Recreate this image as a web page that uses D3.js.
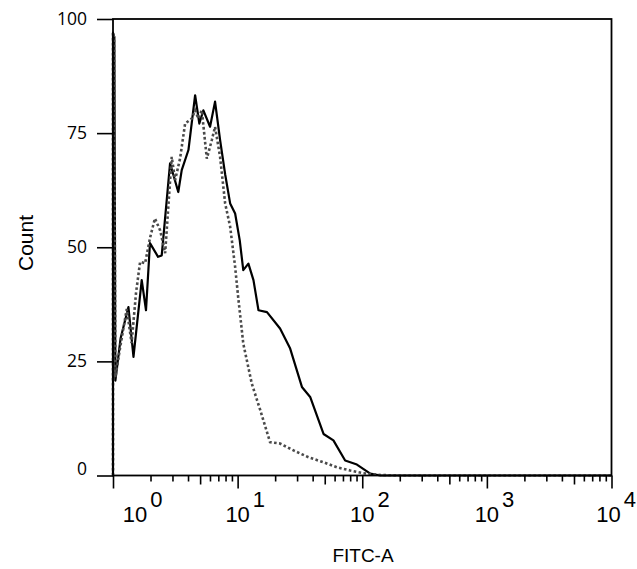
<!DOCTYPE html>
<html>
<head>
<meta charset="utf-8">
<script src="https://cdn.jsdelivr.net/npm/d3@7"></script>
<style>
  html, body { margin: 0; padding: 0; background: #fff; }
  svg { display: block; }
</style>
</head>
<body>
<svg id="chart" width="637" height="569"></svg>
<script>
// FITC-A histogram, two overlaid samples (log x, counts on y)

// solid trace
const solidFitc = [1.0, 1.0, 1.025, 1.045, 1.15, 1.33, 1.46, 1.70, 1.84, 1.98, 2.30, 2.46, 2.87, 3.34, 3.56, 4.03, 4.56, 4.93,
  5.31, 6.01, 6.59, 7.23, 7.94, 8.71, 9.55, 10.4, 11.1, 12.2, 13.4, 14.7, 17.2, 21.9, 26.4, 32.8, 38.2,
  48.9, 58.7, 72.9, 90.6, 116, 140, 10000];
const solidCount = [0, 97, 96, 20.8, 30, 36.9, 26, 42.8, 36.2, 50.9, 47.9, 48.2, 68.4, 62.1, 66.9, 71.3, 83.3, 77.1,
  80, 76.4, 81.9, 73.5, 66, 59.6, 57.4, 51.5, 45, 46.4, 42.8, 36.2, 35.8, 32.2, 27.8, 19.4, 17.2,
  9.1, 7.7, 3.3, 2.4, 0.4, 0, 0];

// dotted trace
const dottedFitc = [1.0, 1.0, 1.02, 1.045, 1.14, 1.29, 1.41, 1.53, 1.65, 1.81, 1.98, 2.17, 2.39, 2.62, 2.96, 3.15, 3.45,
  3.79, 4.29, 4.56, 4.84, 5.16, 5.66, 6.21, 6.59, 7.23, 7.94, 8.71, 9.55, 10.1, 11.1, 13.0, 15.2,
  18.2, 21.9, 28.1, 37.0, 48.9, 62.6, 80.1, 102, 140, 202, 10000];
const dottedCount = [0, 97, 96, 21.5, 28, 36.5, 29, 40, 46.8, 46.5, 52, 56.3, 53.7, 48.7, 69.8, 64.7, 69.4,
  77.1, 78.2, 80, 78.2, 80, 69.4, 73.5, 76.4, 69.8, 59.6, 54.5, 45.7, 39.1, 28.9, 20.1, 14.3,
  7.3, 7, 5.5, 4, 2.9, 1.8, 1.1, 0.5, 0.1, 0, 0];

// axis ticks
const xDecades = [0, 1, 2, 3, 4];
const yTicks = [0, 25, 50, 75, 100];
const xTitle = "FITC-A";
const yTitle = "Count";

const svg = d3.select("#chart");
const W = 637, H = 569;
const margin = { top: 19, right: 25.5, bottom: 93.5, left: 113 };

const x = d3.scaleLog()
  .domain([Math.pow(10, xDecades[0]), Math.pow(10, xDecades[xDecades.length - 1])])
  .range([margin.left, W - margin.right]);
const y = d3.scaleLinear()
  .domain([0, 100])
  .range([H - margin.bottom, margin.top]);

const labelFont = "'Liberation Sans', Arial, sans-serif";

// traces
const zip = (fs, cs) => fs.map((f, i) => ({ f, c: cs[i] }));
const line = d3.line().x(d => x(d.f)).y(d => y(d.c));

svg.append("path")
  .datum(zip(solidFitc, solidCount))
  .attr("d", line)
  .attr("fill", "none")
  .attr("stroke", "#000")
  .attr("stroke-width", 2.2)
  .attr("stroke-linejoin", "round");

svg.append("path")
  .datum(zip(dottedFitc, dottedCount))
  .attr("d", line)
  .attr("fill", "none")
  .attr("stroke", "#4a4a4a")
  .attr("stroke-width", 2.6)
  .attr("stroke-dasharray", "2.6 2.4");

// log minor + major ticks on x
const xTickVals = [];
for (let e = xDecades[0]; e < xDecades[xDecades.length - 1]; e++) {
  for (let m = 1; m < 10; m++) xTickVals.push(m * Math.pow(10, e));
}
xTickVals.push(Math.pow(10, xDecades[xDecades.length - 1]));

const xAxis = svg.append("g")
  .attr("transform", `translate(0,${y(0)})`)
  .call(d3.axisBottom(x).tickValues(xTickVals).tickSize(6).tickFormat(""));
xAxis.select(".domain").remove();
xAxis.selectAll(".tick line")
  .attr("stroke", "#000")
  .attr("stroke-width", 1.6)
  .attr("y2", d => {
    const m = Math.round(d / Math.pow(10, Math.floor(Math.log10(d) + 1e-9)));
    return m === 1 ? 13 : (m === 5 ? 9 : 6);
  });

// decade labels: 10 with raised exponent
xDecades.forEach((e, i) => {
  let cx = x(Math.pow(10, e));
  if (i === 0) cx += 22;                       // nudge clear of the y axis
  if (i === xDecades.length - 1) cx -= 3;
  const base = svg.append("text")
    .attr("x", cx)
    .attr("y", 522)
    .attr("text-anchor", "middle")
    .attr("font-family", labelFont)
    .attr("font-size", 22)
    .attr("fill", "#000")
    .text("10");
  const bw = base.node().getBBox().width;
  svg.append("text")
    .attr("x", cx + bw / 2 + 3)
    .attr("y", 507)
    .attr("font-family", labelFont)
    .attr("font-size", 22)
    .attr("fill", "#000")
    .text(String(e));
});

// y axis
const yAxis = svg.append("g")
  .attr("transform", `translate(${margin.left},0)`)
  .call(d3.axisLeft(y).tickValues(yTicks).tickSize(16).tickPadding(10));
yAxis.select(".domain").remove();
yAxis.selectAll(".tick line").attr("stroke", "#000").attr("stroke-width", 1.6);
yAxis.selectAll(".tick text")
  .attr("font-family", "'Open Sans', sans-serif")
  .attr("font-size", 17.5)
  .attr("fill", "#000")
  .attr("dy", d => d === 0 ? "-0.05em" : "0.3em");

// plot frame
svg.append("rect")
  .attr("x", margin.left)
  .attr("y", margin.top)
  .attr("width", W - margin.right - margin.left)
  .attr("height", y(0) - margin.top)
  .attr("fill", "none")
  .attr("stroke", "#000")
  .attr("stroke-width", 1.8);

// axis titles
svg.append("text")
  .attr("x", 363)
  .attr("y", 562)
  .attr("text-anchor", "middle")
  .attr("font-family", labelFont)
  .attr("font-size", 19)
  .attr("fill", "#000")
  .text(xTitle);

svg.append("text")
  .attr("transform", "translate(33,243) rotate(-90)")
  .attr("text-anchor", "middle")
  .attr("font-family", labelFont)
  .attr("font-size", 21)
  .attr("fill", "#000")
  .text(yTitle);
</script>
</body>
</html>
